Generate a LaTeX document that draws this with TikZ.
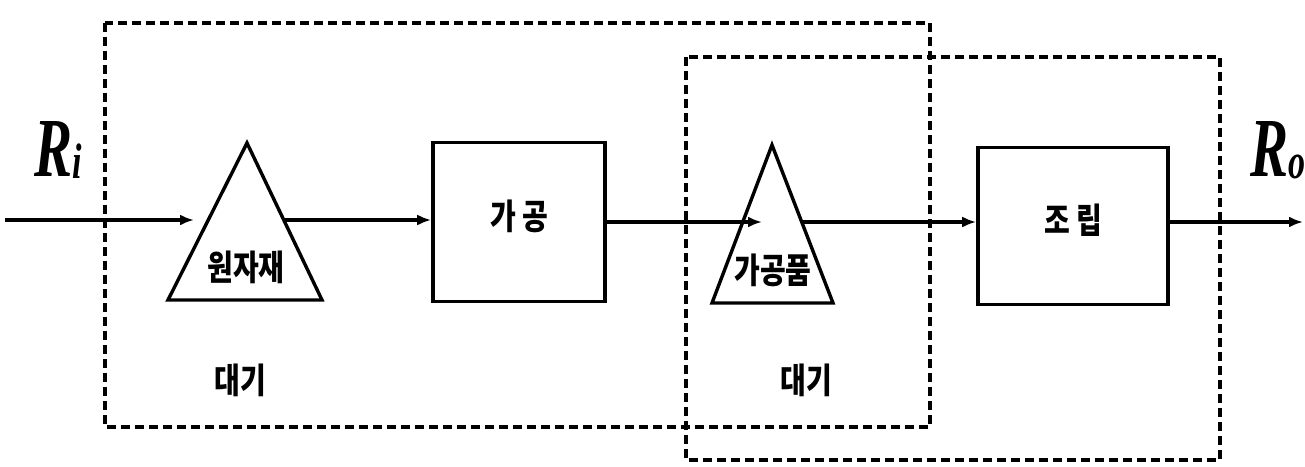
\documentclass[tikz,border=0pt]{standalone}
\usepackage{fontspec}
\newfontfamily\rfont{Liberation Serif}
\newfontfamily\kr{Noto Sans CJK KR}
\usetikzlibrary{arrows.meta}
\begin{document}
\begin{tikzpicture}[x=1pt,y=-1pt,
  box/.style={draw, line width=3.6pt, inner sep=0},
  conn/.style={-{Latex[length=14pt,width=11pt]}, line width=3.4pt},
  region/.style={draw, dash pattern=on 9pt off 5pt, line width=3.6pt},
  tri/.style={draw, line width=3.4pt, line join=miter},
  kr/.style={font=\kr\bfseries\fontsize{35}{35}\selectfont, inner sep=0, xscale=0.8},
  rlab/.style={font=\rfont\bfseries\itshape\fontsize{84}{84}\selectfont, inner sep=0, xscale=0.68}]
\useasboundingbox (0,0) rectangle (1305,466);
% dashed regions
\draw[region] (105,23) rectangle (930,427);
\draw[region] (686,57) rectangle (1220,460);
% triangles
\coordinate (a1) at (247,143);
\coordinate (bl1) at (168,300);
\coordinate (br1) at (322,300);
\draw[tri] (a1) -- (bl1) -- (br1) -- cycle;
\coordinate (a2) at (772,145);
\coordinate (bl2) at (712,303);
\coordinate (br2) at (833,303);
\draw[tri] (a2) -- (bl2) -- (br2) -- cycle;
% boxes
\node[box, minimum width=172pt, minimum height=159pt] (b1) at (519,222) {};
\node[box, minimum width=190pt, minimum height=157pt] (b2) at (1073,226) {};
% labels
\node[kr] (t1) at (519,216) {가 공};
\node[kr] (t2) at (1073,220) {조 립};
\node[kr] (w1) at (246,267) {원자재};
\node[kr] (w2) at (773,270) {가공품};
\node[kr] (d1) at (240,380) {대기};
\node[kr] (d2) at (806,380) {대기};
\node[rlab] (ri) at (58,150) {R\raisebox{-2pt}{\fontsize{50}{50}\selectfont i}};
\node[rlab] (ro) at (1278,150) {R\raisebox{-2pt}{\fontsize{50}{50}\selectfont o}};
% connectors
\coordinate (in) at (5,220);
\coordinate (t1l) at (194,220);
\coordinate (t1r) at (284,220);
\coordinate (t2l) at (762,222);
\coordinate (t2r) at (802,222);
\coordinate (out) at (1303,222);
\draw[conn] (in) -- (t1l);
\draw[conn] (t1r) -- (b1.west |- t1r);
\draw[conn] (b1.east |- t2l) -- (t2l);
\draw[conn] (t2r) -- (b2.west |- t2r);
\draw[conn] (b2.east |- out) -- (out);
\end{tikzpicture}
\end{document}
